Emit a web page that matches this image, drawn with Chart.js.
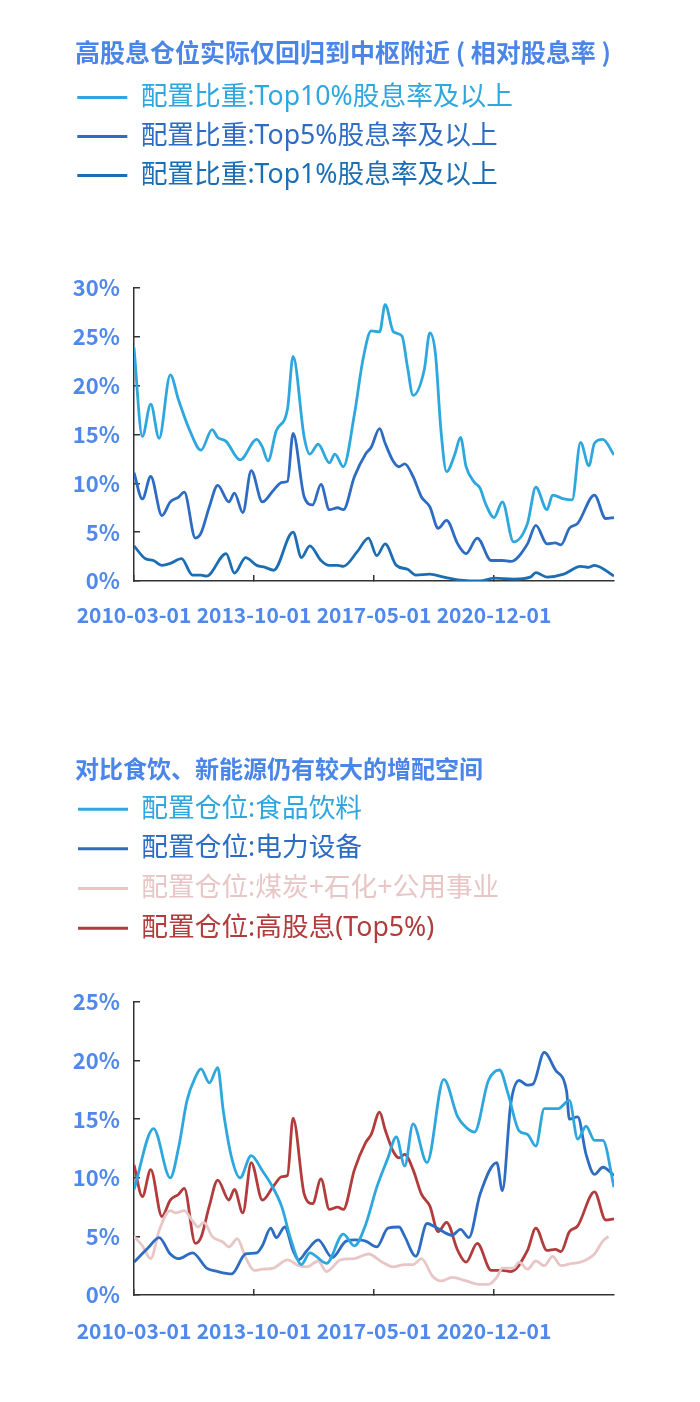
<!DOCTYPE html>
<html><head><meta charset="utf-8">
<script src="https://cdn.jsdelivr.net/npm/chart.js@4.4.1/dist/chart.umd.min.js"></script>
<style>
html,body{margin:0;padding:0;background:#fff;}
canvas{display:block;}
</style></head><body>
<canvas id="c1" width="700" height="700"></canvas>
<canvas id="c2" width="700" height="702"></canvas>
<script>
// x values are month offsets counted from 2010-03-01
const xTickMonths = [0, 43, 86, 129];
const xTickLabels = ['2010-03-01', '2013-10-01', '2017-05-01', '2020-12-01'];

const title1 = '高股息仓位实际仅回归到中枢附近 ( 相对股息率 )';
const title2 = '对比食饮、新能源仍有较大的增配空间';

// Chart 1 series
const top10Name = '配置比重:Top10%股息率及以上';
const top10Months = [0,3,6,9,13,16,20,24,28,30,33,38,44,46,48,51,55,57,61,63,66,70,72,75,79,82,85,88,90,93,96,98,100,104,106,108,110,112,115,117,119,122,124,126,129,132,136,141,144,148,150,154,157,160,163,165,168,172];
const top10Values = [23.9,14.8,18.1,14.6,21.1,18.5,15.4,13.4,15.5,14.7,14.3,12.4,14.5,13.7,12.3,15.4,17.6,23.0,14.7,13.0,14.0,12.1,13.0,11.7,17.1,22.6,25.6,25.5,28.3,25.5,25.1,21.9,19.0,21.6,25.4,23.3,15.4,11.2,13.0,14.7,11.7,10.1,9.5,7.9,6.5,8.1,4.0,5.9,9.6,7.3,8.8,8.4,8.3,14.2,11.8,14.1,14.5,12.9];

const top5Name = '配置比重:Top5%股息率及以上';
const top5Months = [0,3,6,10,13,16,18,22,24,27,30,34,36,39,42,46,50,53,55,57,61,64,67,70,73,75,79,83,85,88,90,93,95,97,100,103,106,109,112,116,119,123,128,132,135,141,144,148,151,153,156,159,165,169,172];
const top5Values = [11.1,8.4,10.7,6.7,8.1,8.6,9.1,4.4,4.9,7.6,9.8,8.1,9.0,7.0,11.3,8.1,9.3,10.1,10.2,15.1,8.6,7.8,9.9,7.3,7.5,7.3,10.7,13.0,13.7,15.6,14.1,12.2,11.7,12.0,10.7,8.6,7.6,5.4,6.2,3.8,2.8,4.4,2.1,2.1,2.0,3.8,5.7,3.8,3.9,3.7,5.4,5.9,8.8,6.4,6.5];

const top1Name = '配置比重:Top1%股息率及以上';
const top1Months = [0,4,7,10,13,17,21,24,26,33,36,40,44,47,50,57,60,63,67,70,73,75,80,84,87,90,94,98,101,106,111,117,124,129,136,142,144,148,154,160,163,165,172];
const top1Values = [3.6,2.3,2.1,1.6,1.8,2.3,0.6,0.6,0.5,2.8,0.8,2.4,1.6,1.4,1.1,5.0,2.4,3.6,2.1,1.6,1.6,1.5,3.0,4.4,2.6,3.8,1.6,1.2,0.6,0.7,0.4,0.1,0.0,0.3,0.2,0.4,0.85,0.4,0.7,1.5,1.4,1.6,0.5];

// Chart 2 series
const foodName = '配置仓位:食品饮料';
const foodMonths = [0,7,13,16,19,22,24,27,30,32,35,38,42,46,49,53,56,60,63,69,75,79,83,87,91,94,97,100,105,111,116,119,122,127,131,134,138,141,144,147,152,156,159,162,165,168,172];
const foodValues = [9.0,14.2,10.0,12.6,16.6,18.6,19.3,18.1,19.4,15.7,11.7,10.0,11.9,10.6,9.5,7.5,4.9,2.6,3.6,2.7,5.2,4.2,6.0,9.2,11.7,13.5,11.0,14.6,11.3,18.4,15.2,14.3,13.9,18.3,19.2,17.2,14.0,13.7,12.7,15.9,15.9,16.6,13.3,14.4,13.2,13.2,9.2];

const powerName = '配置仓位:电力设备';
const powerMonths = [0,5,9,13,16,21,26,30,35,40,44,46,49,51,54,57,59,62,66,71,76,79,83,87,91,95,97,101,105,108,114,117,120,124,130,132,135,138,141,143,147,151,155,156,159,162,165,168,172];
const powerValues = [2.8,4.0,4.9,3.5,3.1,3.6,2.3,2.0,1.8,3.5,3.6,4.2,5.7,4.9,5.8,3.8,3.0,3.8,4.7,3.2,4.6,4.7,4.6,4.1,5.7,5.8,5.0,3.3,6.1,5.8,5.1,5.6,4.9,8.6,11.3,8.9,16.3,18.3,17.9,18.0,20.7,19.2,17.4,15.0,15.2,12.0,10.3,10.9,10.2];

const coalName = '配置仓位:煤炭+石化+公用事业';
const coalMonths = [0,3,6,9,13,15,18,21,23,25,28,32,34,37,40,43,46,50,55,59,62,66,69,74,79,84,89,93,97,100,103,107,110,114,119,124,127,130,132,136,138,141,144,147,150,153,157,160,165,168,170];
const coalValues = [5.0,4.2,3.1,5.5,7.2,7.0,7.2,6.3,5.8,6.2,5.0,4.5,4.1,4.8,3.2,2.1,2.2,2.3,3.0,2.5,2.4,2.9,2.0,3.0,3.1,3.5,2.8,2.4,2.6,2.6,3.1,1.6,1.2,1.5,1.2,0.9,0.9,1.5,2.3,2.3,2.8,2.2,2.9,2.5,3.3,2.5,2.7,2.8,3.5,4.6,5.0];

const highDivName = '配置仓位:高股息(Top5%)';
const highDivMonths = top5Months;
const highDivValues = top5Values;

const COLORS = {
  lightBlue: '#2ea6de', midBlue: '#2d6cc2', deepBlue: '#1c6eb4',
  pink: '#e8c6c6', red: '#b23c3c', title: '#4a86e8', tick: '#5088eb', axis: '#333333'
};

const FONT = "'Noto Sans CJK SC', 'Noto Sans', sans-serif";
const LEGEND_FONT = "'Noto Sans', 'Noto Sans CJK SC', sans-serif";
Chart.defaults.font.family = FONT;

const pts = (ms, vs) => ms.map((m, i) => ({x: m, y: vs[i]}));
const line = (label, ms, vs, color) => ({
  label, data: pts(ms, vs), borderColor: color, backgroundColor: color,
  borderWidth: 2.8, pointRadius: 0, cubicInterpolationMode: 'monotone', fill: false
});

const legendGap = {
  id: 'legendGap',
  afterInit(chart, args, opts) {
    const fit = chart.legend.fit;
    chart.legend.fit = function () { fit.call(this); this.height += opts.extra || 0; };
  },
  afterLayout(chart, args, opts) {
    const t = chart.titleBlock;
    if (t) { t.left += opts.titleShift || 0; t.right += opts.titleShift || 0; }
  }
};

function makeOptions(cfg) {
  return {
    responsive: false, animation: false,
    layout: {padding: {left: 65, right: 86, top: 0, bottom: cfg.padBottom}},
    plugins: {
      title: {display: true, text: cfg.title, align: 'start', color: COLORS.title,
        font: {size: cfg.titleSize, weight: 'bold'}, padding: {top: cfg.titleTop, bottom: cfg.titleBottom}},
      legend: {display: true, position: 'top', align: 'start',
        labels: {boxWidth: 50, boxHeight: 3, padding: cfg.legendPad, font: {size: 26.7, family: LEGEND_FONT},
          generateLabels: (chart) => chart.data.datasets.map((d, i) => ({
            text: d.label, fillStyle: d.borderColor, strokeStyle: d.borderColor,
            lineWidth: 0, fontColor: d.borderColor, datasetIndex: i, hidden: false
          }))}},
      tooltip: {enabled: false},
      legendGap: {extra: cfg.gap, titleShift: 10}
    },
    scales: {
      x: {type: 'linear', min: 0, max: 172,
        afterBuildTicks: (s) => { s.ticks = xTickMonths.map(v => ({value: v})); },
        afterFit: (s) => { s.height = 50; },
        border: {display: true, color: COLORS.axis, width: 1.5},
        grid: {drawOnChartArea: false, drawTicks: true, tickLength: -6, color: COLORS.axis, lineWidth: 1.5},
        ticks: {autoSkip: false, maxRotation: 0, padding: cfg.xPad, color: COLORS.tick,
          font: {size: 21, weight: 'bold'},
          callback: (v) => { const i = xTickMonths.indexOf(v); return i >= 0 ? xTickLabels[i] : ''; }}
      },
      y: {min: 0, max: cfg.yMax,
        afterFit: (s) => { s.width = 69; },
        border: {display: true, color: COLORS.axis, width: 1.5},
        grid: {drawOnChartArea: false, drawTicks: true, tickLength: -6, color: COLORS.axis, lineWidth: 1.5},
        ticks: {stepSize: 5, padding: 20, color: COLORS.tick, font: {size: 22, weight: 'bold'},
          callback: (v) => v + '%'}
      }
    }
  };
}

new Chart(document.getElementById('c1'), {
  type: 'line',
  data: {datasets: [
    line(top10Name, top10Months, top10Values, COLORS.lightBlue),
    line(top5Name, top5Months, top5Values, COLORS.midBlue),
    line(top1Name, top1Months, top1Values, COLORS.deepBlue)
  ]},
  options: makeOptions({title: title1, titleSize: 25, yMax: 30, titleTop: 37, titleBottom: 4.8, legendPad: 12.3, gap: 89.2, padBottom: 69, xPad: 27}),
  plugins: [legendGap]
});

new Chart(document.getElementById('c2'), {
  type: 'line',
  data: {datasets: [
    line(foodName, foodMonths, foodValues, COLORS.lightBlue),
    line(powerName, powerMonths, powerValues, COLORS.midBlue),
    line(coalName, coalMonths, coalValues, COLORS.pink),
    line(highDivName, highDivMonths, highDivValues, COLORS.red)
  ]},
  options: makeOptions({title: title2, titleSize: 24, yMax: 25, titleTop: 54, titleBottom: 0, legendPad: 13, gap: 50.4, padBottom: 57, xPad: 29}),
  plugins: [legendGap]
});
</script>
</body></html>
